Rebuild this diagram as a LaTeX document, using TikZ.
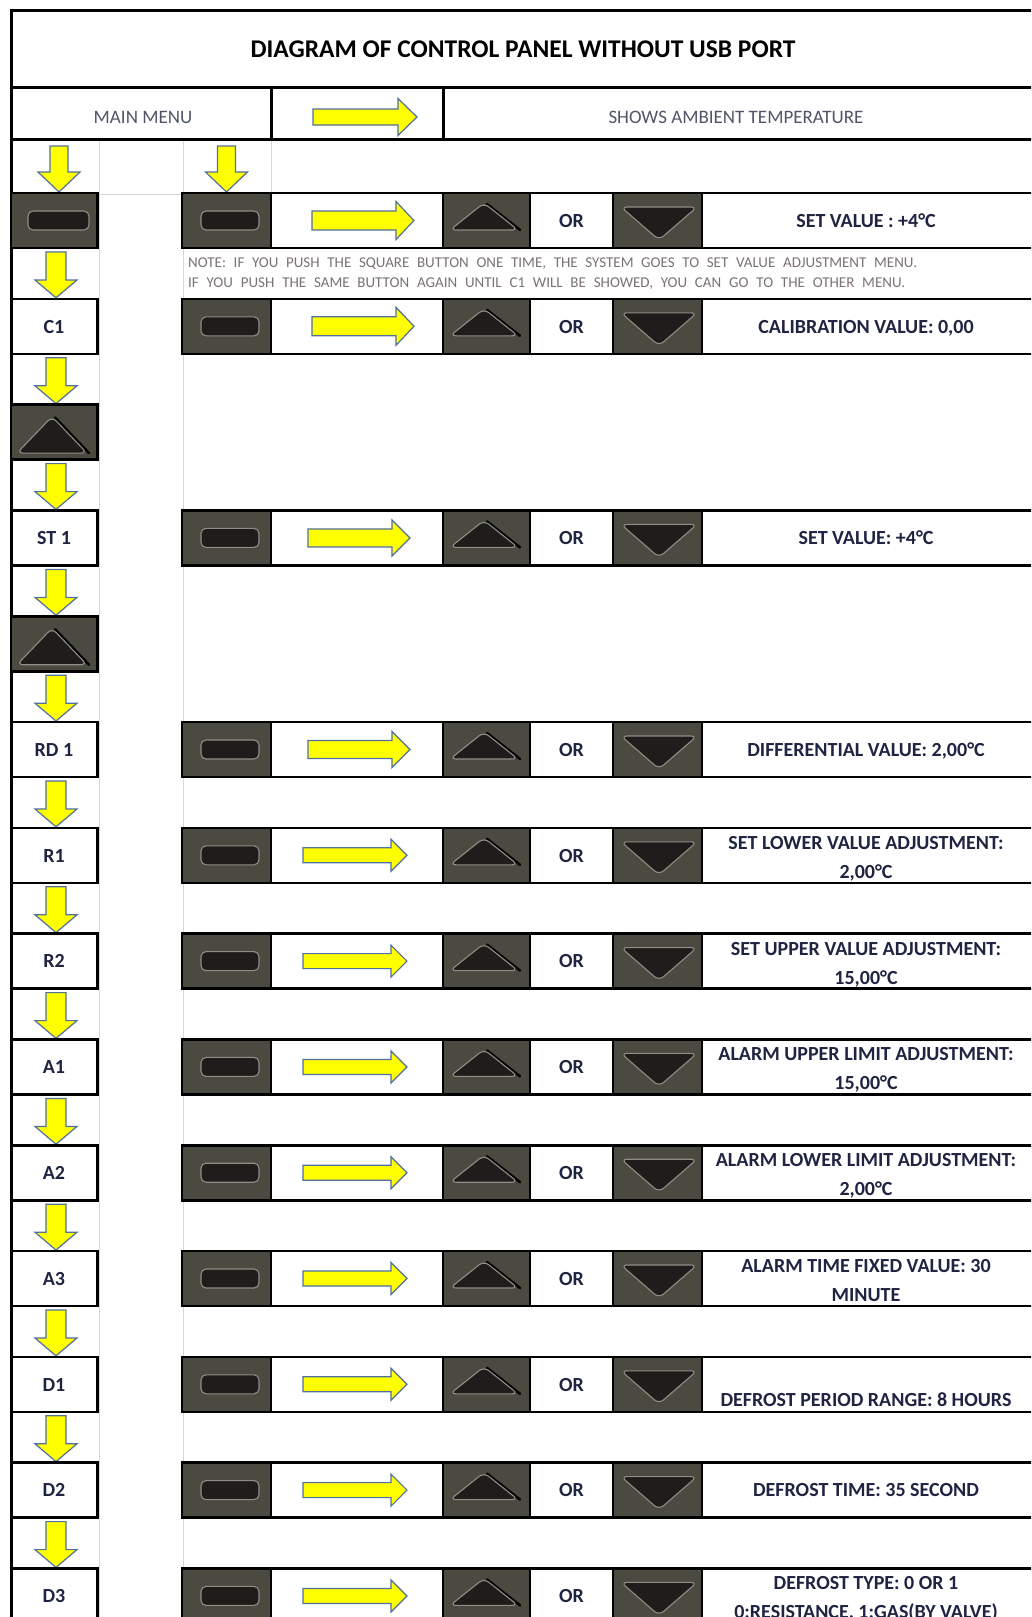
\documentclass[tikz,border=0pt]{standalone}
\usepackage{fontspec}
\setmainfont{Carlito}
\definecolor{btnbg}{HTML}{4A4A40}
\definecolor{btnin}{HTML}{1E1D1C}
\definecolor{btnrim}{HTML}{8E8E86}
\definecolor{arrowfill}{HTML}{FFFF00}
\definecolor{arrowline}{HTML}{50709F}
\definecolor{txt}{HTML}{1F2442}
\definecolor{gridc}{HTML}{D6D6D6}
\definecolor{notec}{HTML}{7C7272}
\definecolor{menuc}{HTML}{505668}
\tikzset{
  frameline/.style={line width=3pt, black},
  rowline/.style={line width=2.6pt, black},
  cellline/.style={line width=2pt, black},
  gridline/.style={line width=0.9pt, gridc},
  yarrow/.style={fill=arrowfill, draw=arrowline, line width=1.2pt, line join=miter},
  btnface/.style={fill=btnin, draw=btnrim, line width=1.1pt},
  lbl/.style={font=\fontsize{20}{24}\selectfont\bfseries, text=txt, inner sep=0pt, anchor=base},
  valtxt/.style={font=\fontsize{20}{24}\selectfont\bfseries, text=txt, inner sep=0pt, anchor=base},
  notetxt/.style={font=\fontsize{15}{18}\selectfont, text=notec, inner sep=0pt, anchor=base west},
  menutxt/.style={font=\fontsize{19}{22}\selectfont, text=menuc, inner sep=0pt, anchor=base},
}
\newcommand\sqbtn[3]{\draw[btnface, rounded corners=5pt] (#1-#3,#2-9.5) rectangle (#1+#3,#2+9.5);}
\newcommand\upbtn[4]{%
  \draw[black, line width=2.5pt, line cap=round] (#1+3,#2+1) -- (#1+#4+2,#3);
  \draw[btnface, rounded corners=6pt] (#1-#4,#3) -- (#1,#2) -- (#1+#4,#3) -- cycle;}
\newcommand\dnbtn[4]{%
  \draw[btnface, rounded corners=6pt] (#1-#4,#2) -- (#1+#4,#2) -- (#1,#3) -- cycle;}
\newcommand\rarr[6]{\draw[yarrow] (#1,#4-#5) -- (#2,#4-#5) -- (#2,#4-#6) -- (#3,#4) -- (#2,#4+#6) -- (#2,#4+#5) -- (#1,#4+#5) -- cycle;}
\newcommand\darr[6]{\draw[yarrow] (#1-#5,#2) -- (#1+#5,#2) -- (#1+#5,#3) -- (#1+#6,#3) -- (#1,#4) -- (#1-#6,#3) -- (#1-#5,#3) -- cycle;}
\begin{document}
\begin{tikzpicture}[x=1pt,y=-1pt]
\useasboundingbox (0,0) rectangle (1031,1617);
\clip (0,0) rectangle (1031,1617);
\fill[white] (0,0) rectangle (1031,1617);
% grid lines
\draw[gridline] (99,139) -- (99,1630);
\draw[gridline] (183.5,139) -- (183.5,1630);
\draw[gridline] (271,139) -- (271,193);
\draw[gridline] (99,194) -- (183,194);
% frame and header
\draw[frameline] (11,10) -- (1040,10);
\draw[frameline] (11,8.5) -- (11,1630);
\draw[frameline] (11,87) -- (1040,87);
\draw[frameline] (11,139) -- (1040,139);
\draw[frameline] (271,87) -- (271,139);
\draw[frameline] (443,87) -- (443,139);
\node[font=\fontsize{25.5}{30}\selectfont\bfseries, text=black, inner sep=0pt, anchor=base] (title) at (523,57) {DIAGRAM OF CONTROL PANEL WITHOUT USB PORT};
\node[menutxt] (mainmenu) at (143,123) {MAIN MENU};
\node[menutxt] (ambient) at (736,123) {SHOWS AMBIENT TEMPERATURE};
\rarr{313}{398}{417}{117}{8}{18.5}
% top down arrows
\darr{59}{146}{172}{192}{9}{21}
\darr{226.5}{146}{172}{192}{9}{21}
% right-hand rows
\foreach \i in {0,1,3,5,6,7,8,9,10,11,12,13} {
  \pgfmathsetmacro\rT{193+105.8*\i}
  \pgfmathsetmacro\rB{\rT+55}
  \pgfmathsetmacro\rC{\rT+27.5}
  \fill[btnbg] (182,\rT) rectangle (271,\rB);
  \fill[btnbg] (443,\rT) rectangle (530,\rB);
  \fill[btnbg] (613,\rT) rectangle (702,\rB);
  \sqbtn{230}{\rC}{29}
  \upbtn{484}{\rT+10}{\rT+37}{34}
  \dnbtn{659}{\rT+14}{\rT+47}{38}
  \draw[cellline] (271,\rT) -- (271,\rB);
  \draw[cellline] (443,\rT) -- (443,\rB);
  \draw[cellline] (530,\rT) -- (530,\rB);
  \draw[cellline] (613,\rT) -- (613,\rB);
  \draw[cellline] (702,\rT) -- (702,\rB);
  \draw[rowline] (182,\rT) rectangle (1060,\rB);
  \node[lbl] (or\i) at (571.5,\rC+6.8) {OR};
}
\foreach \i in {0,1} {
  \pgfmathsetmacro\rC{193+105.8*\i+27.5}
  \rarr{312}{396}{414}{\rC}{9.5}{19}
}
\foreach \i in {3,5} {
  \pgfmathsetmacro\rC{193+105.8*\i+27.5}
  \rarr{308}{392}{410}{\rC}{9}{18}
}
\foreach \i in {6,7,8,9,10,11,12,13} {
  \pgfmathsetmacro\rC{193+105.8*\i+27.5}
  \rarr{303}{391}{407}{\rC}{7.5}{16}
}
% left column
\foreach \i in {0,...,12} {
  \pgfmathsetmacro\rT{193+105.8*\i}
  \darr{56}{\rT+59}{\rT+87}{\rT+104.8}{10}{21}
}
\pgfmathsetmacro\rT{193}
\fill[btnbg] (11,\rT) rectangle (97.5,\rT+55);
\draw[rowline] (11,\rT) rectangle (97.5,\rT+55);
\sqbtn{58.5}{\rT+27.5}{30.5}
\foreach \i in {2,4} {
  \pgfmathsetmacro\rT{193+105.8*\i}
  \fill[btnbg] (11,\rT) rectangle (97.5,\rT+55);
  \draw[rowline] (11,\rT) rectangle (97.5,\rT+55);
  \upbtn{52}{\rT+12}{\rT+48.5}{35}
}
\foreach \i/\lab in {1/C1,3/ST 1,5/RD 1,6/R1,7/R2,8/A1,9/A2,10/A3,11/D1,12/D2,13/D3} {
  \pgfmathsetmacro\rT{193+105.8*\i}
  \draw[rowline] (11,\rT) rectangle (97.5,\rT+55);
  \node[lbl] (lab\i) at (54,\rT+34.3) {\lab};
}
% note
\node[notetxt] (note1) at (188,267) {\hbox to 729pt{NOTE: IF YOU PUSH THE SQUARE BUTTON ONE TIME, THE SYSTEM GOES TO SET VALUE ADJUSTMENT MENU.}};
\node[notetxt] (note2) at (188,287) {\hbox to 717pt{IF YOU PUSH THE SAME BUTTON AGAIN UNTIL C1 WILL BE SHOWED, YOU CAN GO TO THE OTHER MENU.}};
% values
\node[valtxt] (v0) at (866,193+34.3) {SET VALUE : +4°C};
\node[valtxt] (v1) at (866,298.8+34.3) {CALIBRATION VALUE: 0,00};
\node[valtxt] (v3) at (866,510.4+34.3) {SET VALUE: +4°C};
\node[valtxt] (v5) at (866,722+34.3) {DIFFERENTIAL VALUE: 2,00°C};
\node[valtxt] (v6a) at (866,827.8+21.5) {SET LOWER VALUE ADJUSTMENT:};
\node[valtxt] (v6b) at (866,827.8+50.5) {2,00°C};
\node[valtxt] (v7a) at (866,933.6+21.5) {SET UPPER VALUE ADJUSTMENT:};
\node[valtxt] (v7b) at (866,933.6+50.5) {15,00°C};
\node[valtxt] (v8a) at (866,1039.4+21.5) {ALARM UPPER LIMIT ADJUSTMENT:};
\node[valtxt] (v8b) at (866,1039.4+50.5) {15,00°C};
\node[valtxt] (v9a) at (866,1145.2+21.5) {ALARM LOWER LIMIT ADJUSTMENT:};
\node[valtxt] (v9b) at (866,1145.2+50.5) {2,00°C};
\node[valtxt] (v10a) at (866,1251+21.5) {ALARM TIME FIXED VALUE: 30};
\node[valtxt] (v10b) at (866,1251+50.5) {MINUTE};
\node[valtxt] (v11) at (866,1356.8+50) {DEFROST PERIOD RANGE: 8 HOURS};
\node[valtxt] (v12) at (866,1462.6+34.3) {DEFROST TIME: 35 SECOND};
\node[valtxt] (v13a) at (866,1568.4+21.5) {DEFROST TYPE: 0 OR 1};
\node[valtxt] (v13b) at (866,1568.4+50.5) {0:RESISTANCE, 1:GAS(BY VALVE)};
\end{tikzpicture}
\end{document}
